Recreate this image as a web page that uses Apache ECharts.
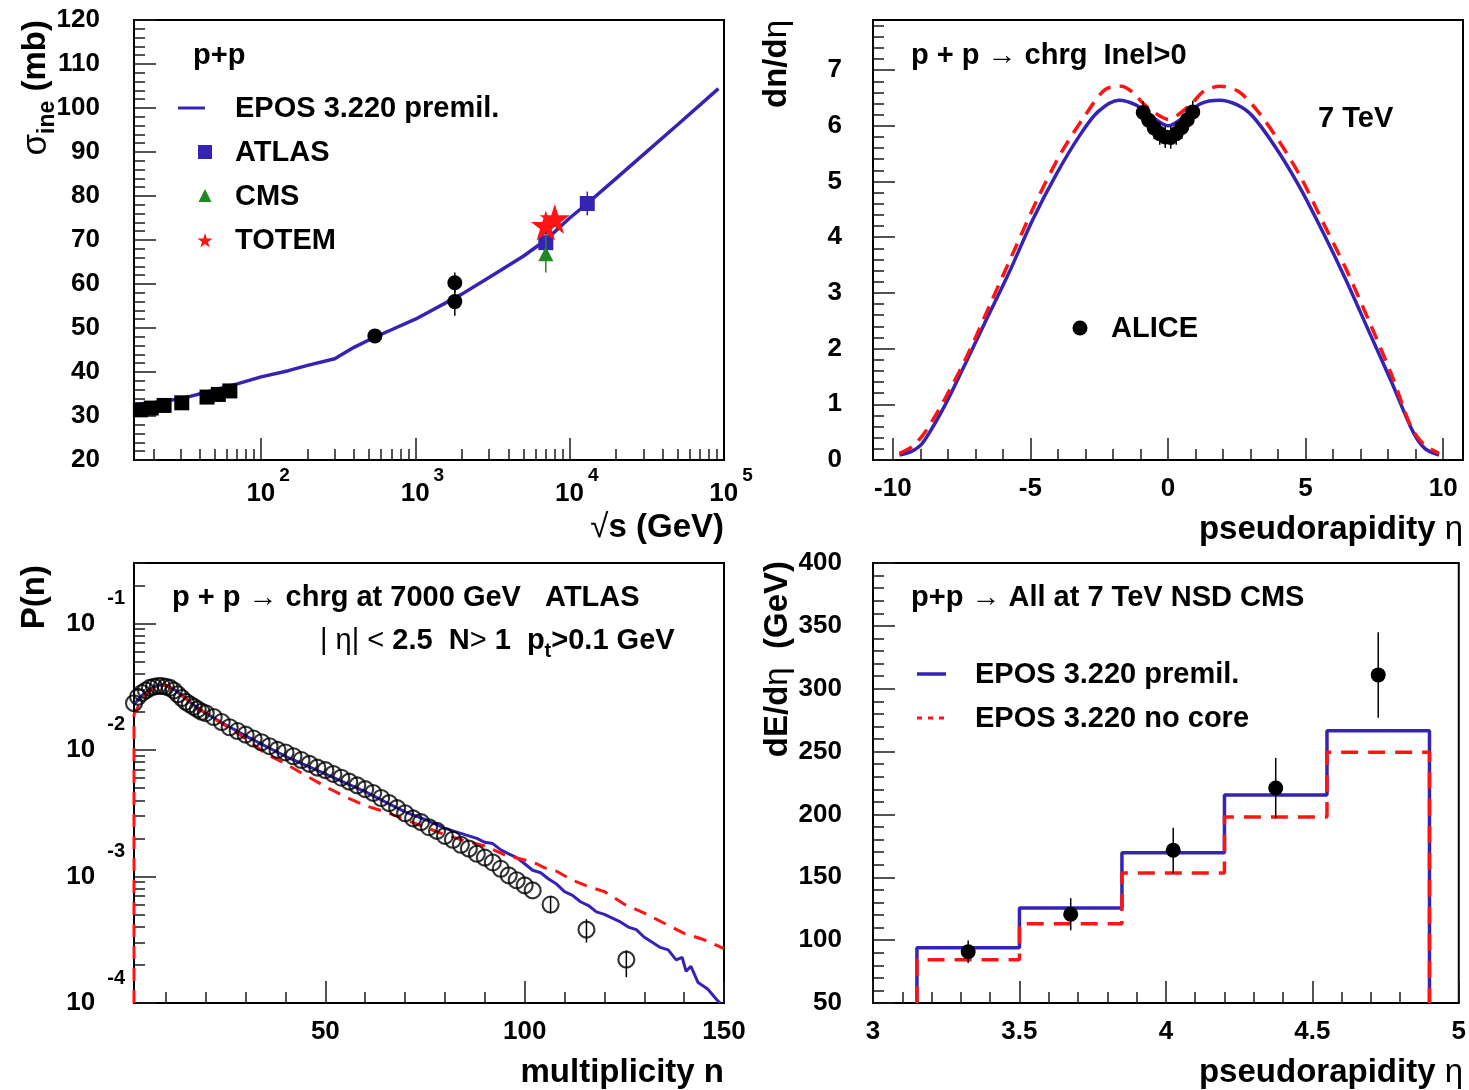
<!DOCTYPE html>
<html>
<head>
<meta charset="utf-8">
<title>EPOS 3.220 p+p comparisons</title>
<script src="https://cdn.jsdelivr.net/npm/echarts@6.0.0/dist/echarts.min.js"></script>
<style>
  html, body { margin: 0; padding: 0; background: #ffffff; }
  #chart { width: 1469px; height: 1090px; }
</style>
</head>
<body>
<div id="chart"></div>
<script>
// ---------- Panel 1: inelastic p+p cross section vs sqrt(s) ----------
const eposSqrtS  = [15, 20, 30, 50, 70, 100, 150, 200, 300, 400, 550, 700, 1000, 2000, 3000, 5000, 7000, 10000, 13000, 20000, 30000, 50000, 92000];
const eposSigma  = [32.6, 33.0, 33.9, 35.9, 37.3, 38.9, 40.3, 41.5, 43.0, 45.6, 48.0, 49.6, 52.0, 57.7, 61.5, 66.3, 70.0, 75.0, 78.3, 84.0, 89.4, 96.2, 104.4];
const lowSqrtS   = [16.5, 19.4, 23.5, 30.6, 44.6, 52.8, 62.7];
const lowSigma   = [31.4, 31.8, 32.4, 33.0, 34.3, 34.9, 35.7];
const collSqrtS  = [546, 1800, 1800];
const collSigma  = [48.2, 56.0, 60.3];
const collErr    = [1.0, 3.2, 2.3];
const atlasSqrtS = [7000, 13000];
const atlasSigma = [69.4, 78.3];
const atlasErr   = [2.4, 2.7];
const cmsSqrtS   = [7000];
const cmsSigma   = [66.9];
const cmsErr     = [4.3];
const totemSqrtS = [7000, 8000];
const totemSigma = [73.3, 74.8];

// ---------- Panel 2: dn/deta of charged particles, 7 TeV ----------
const eposEta = [-9.76, -9.3, -8.91, -8.15, -7.47, -6.62, -5.77, -4.92, -4.07, -3.23, -2.55, -1.78, -1.19, -0.68, 0, 0.68, 1.19, 1.87, 2.5, 3.06, 3.90, 4.75, 5.60, 6.45, 7.30, 8.15, 8.91, 9.35, 9.85];
const eposDn  = [0.09, 0.16, 0.31, 0.94, 1.62, 2.50, 3.37, 4.31, 5.12, 5.81, 6.25, 6.46, 6.38, 6.20, 6.00, 6.20, 6.40, 6.46, 6.38, 6.18, 5.62, 4.93, 4.12, 3.25, 2.31, 1.37, 0.50, 0.2, 0.09];
const noCoreEta = [-9.76, -9.3, -8.83, -8.15, -7.3, -6.45, -5.6, -4.75, -3.9, -3.06, -2.29, -1.70, -1.28, -0.9, -0.37, 0, 0.37, 0.9, 1.3, 1.9, 2.55, 3.2, 4.0, 4.8, 5.6, 6.45, 7.3, 8.15, 8.83, 9.3, 9.85];
const noCoreDn  = [0.12, 0.24, 0.50, 1.06, 1.87, 2.81, 3.75, 4.68, 5.50, 6.15, 6.65, 6.71, 6.60, 6.40, 6.20, 6.12, 6.20, 6.42, 6.62, 6.71, 6.62, 6.30, 5.75, 5.10, 4.30, 3.45, 2.50, 1.50, 0.60, 0.28, 0.12];
const aliceEta = [-0.9, -0.7, -0.5, -0.3, -0.1, 0.1, 0.3, 0.5, 0.7, 0.9];
const aliceDn  = [6.24, 6.10, 5.96, 5.86, 5.80, 5.79, 5.86, 5.97, 6.11, 6.25];
const aliceErr = [0.2, 0.2, 0.2, 0.2, 0.2, 0.2, 0.2, 0.2, 0.2, 0.2];

// ---------- Panel 3: multiplicity distribution, 7000 GeV ----------
const atlasN = [2, 3, 4, 5, 6, 7, 8, 9, 10, 11, 12, 13, 14, 15, 16, 17, 18, 19, 20,
  22, 24, 26, 28, 30, 32, 34, 36, 38, 40, 42, 44, 46, 48, 50, 52, 54, 56, 58, 60,
  62, 64, 66, 68, 70, 72, 74, 76, 78, 80, 82, 84, 86, 88, 90, 92, 94, 96, 98, 100, 102];
const atlasP = [2.34e-2, 2.63e-2, 2.82e-2, 2.95e-2, 3.09e-2, 3.16e-2, 3.20e-2, 3.20e-2, 3.16e-2, 3.09e-2,
  2.95e-2, 2.75e-2, 2.57e-2, 2.40e-2, 2.29e-2, 2.19e-2, 2.09e-2, 2.00e-2, 1.95e-2,
  1.82e-2, 1.66e-2, 1.51e-2, 1.41e-2, 1.32e-2, 1.23e-2, 1.15e-2, 1.07e-2, 1.00e-2, 9.55e-3,
  8.91e-3, 8.32e-3, 7.76e-3, 7.24e-3, 6.92e-3, 6.46e-3, 6.03e-3, 5.62e-3, 5.25e-3, 4.90e-3,
  4.57e-3, 4.17e-3, 3.80e-3, 3.47e-3, 3.16e-3, 2.88e-3, 2.69e-3, 2.45e-3, 2.29e-3, 2.09e-3,
  1.95e-3, 1.78e-3, 1.66e-3, 1.51e-3, 1.41e-3, 1.29e-3, 1.15e-3, 1.02e-3, 9.33e-4, 8.51e-4, 7.76e-4];
const atlasTailN  = [106.5, 115.5, 125.5];
const atlasTailP  = [6.0e-4, 3.8e-4, 2.2e-4];
const atlasTailLo = [5.1e-4, 3.0e-4, 1.6e-4];
const atlasTailHi = [7.0e-4, 4.6e-4, 2.6e-4];
const multEposN = [2, 4, 6, 8, 10, 12, 14, 16, 18, 20, 25, 30, 35, 40, 45, 50, 55, 60, 65, 70, 75, 80, 85, 88,
  90, 92, 94, 96, 98, 100, 102, 104, 106, 108, 110, 112, 114, 116, 118, 120, 122, 124, 126, 128,
  130, 132, 134, 136, 138, 139.5, 140.5, 141.7, 143.5, 145.9, 148.2, 149];
const multEposP = [2.29e-2, 2.69e-2, 3.02e-2, 3.24e-2, 3.24e-2, 3.02e-2, 2.69e-2, 2.40e-2, 2.14e-2, 1.95e-2,
  1.58e-2, 1.29e-2, 1.07e-2, 8.91e-3, 7.59e-3, 6.46e-3, 5.50e-3, 4.68e-3, 3.89e-3, 3.24e-3, 2.82e-3, 2.40e-3, 2.14e-3, 2.00e-3,
  1.86e-3, 1.82e-3, 1.62e-3, 1.51e-3, 1.41e-3, 1.26e-3, 1.12e-3, 1.07e-3, 9.55e-4, 8.71e-4, 7.59e-4, 7.08e-4, 6.31e-4, 5.89e-4,
  5.25e-4, 5.01e-4, 4.68e-4, 4.37e-4, 3.98e-4, 3.80e-4, 3.31e-4, 3.02e-4, 2.75e-4, 2.63e-4, 2.19e-4, 2.29e-4,
  1.78e-4, 1.95e-4, 1.45e-4, 1.29e-4, 1.06e-4, 1.0e-4];
const multNoCoreN = [2, 4, 6, 8, 10, 12, 14, 16, 18, 20, 25, 30, 35, 40, 45, 50, 55, 60, 65, 70, 75, 80, 85, 90,
  95, 100, 103, 105, 108, 112, 116, 120, 125, 130, 135, 140, 145, 150];
const multNoCoreP = [1.91e-2, 2.51e-2, 2.95e-2, 3.24e-2, 3.24e-2, 3.02e-2, 2.69e-2, 2.40e-2, 2.14e-2, 1.95e-2,
  1.55e-2, 1.23e-2, 9.33e-3, 7.76e-3, 6.31e-3, 5.13e-3, 4.27e-3, 3.63e-3, 3.24e-3, 2.82e-3, 2.45e-3, 2.14e-3, 1.91e-3, 1.74e-3,
  1.48e-3, 1.35e-3, 1.26e-3, 1.17e-3, 1.10e-3, 9.33e-4, 8.32e-4, 7.59e-4, 6.03e-4, 5.13e-4, 4.27e-4, 3.55e-4, 3.16e-4, 2.69e-4];

// ---------- Panel 4: dE/deta forward, 7 TeV NSD ----------
const binEdges   = [3.15, 3.5, 3.85, 4.2, 4.55, 4.9];
const eposDE     = [94, 125.5, 169.5, 215.5, 266.5];
const noCoreDE   = [84.5, 113, 153.5, 198, 249.5];
const cmsEta     = [3.325, 3.675, 4.025, 4.375, 4.725];
const cmsDE      = [90.8, 120.6, 171.5, 221, 311];
const cmsDEErr   = [9, 12.8, 18, 24, 34];

// ---------- styling ----------
const FONT = "'Liberation Sans', Arial, Helvetica, sans-serif";
const BLUE = '#3524b4';
const RED = '#ff1414';
const GREEN = '#1f8a1f';
// five-pointed star outline on a 100x100 box
const STAR_PTS = [[50, 0], [61.2, 34.5], [97.6, 34.5], [68.2, 55.9], [79.4, 90.5], [50, 69.1], [20.6, 90.5], [31.8, 55.9], [2.4, 34.5], [38.8, 34.5]];
const STAR = 'M' + STAR_PTS.map(p => p.join(',')).join(' L') + ' Z';
const TICK = { color: '#1a1a1a', width: 1.5 };

const zip = (xs, ys) => xs.map((x, i) => [x, ys[i]]);
const bars = (xs, ys, es) => xs.map((x, i) => [x, ys[i] - es[i], ys[i] + es[i]]);

function steps(a, b, st, skip) {
  const out = [];
  for (let k = 0; a + k * st <= b + 1e-9; k++) {
    const v = +(a + k * st).toFixed(6);
    if (!skip || !skip.some(s => Math.abs(s - v) < 1e-9)) out.push(v);
  }
  return out;
}
function logMinors(d0, d1, extra) {
  const out = [];
  for (let d = d0; d <= d1; d++) for (let m = 2; m <= 9; m++) out.push(+(m * Math.pow(10, d)).toPrecision(6));
  return out.concat(extra || []);
}

function mainAxis(dim, gi, type, min, max, majors, labels, labelOpt) {
  const ax = {
    type, gridIndex: gi, min, max,
    position: dim === 'x' ? 'bottom' : 'left',
    axisLine: { show: true, onZero: false, lineStyle: { color: '#000', width: 2 } },
    axisTick: { show: true, inside: true, length: 22, customValues: majors, lineStyle: TICK },
    axisLabel: Object.assign({
      show: true, customValues: labels, color: '#000', fontFamily: FONT, fontWeight: 'bold', fontSize: 26,
      lineHeight: 26, margin: dim === 'x' ? 16 : 31
    }, labelOpt || {}),
    splitLine: { show: false }, minorTick: { show: false }, minorSplitLine: { show: false }
  };
  if (type === 'log') ax.logBase = 10;
  return ax;
}
function minorAxis(dim, gi, type, min, max, minors) {
  const ax = {
    type, gridIndex: gi, min, max,
    position: dim === 'x' ? 'bottom' : 'left',
    axisLine: { show: false, onZero: false }, axisLabel: { show: false }, splitLine: { show: false },
    axisTick: { show: true, inside: true, length: 11, customValues: minors, lineStyle: TICK }
  };
  if (type === 'log') ax.logBase = 10;
  return ax;
}

const powLabel = v => Math.round(Math.log10(v));

// x axes: [main, minor] per panel
const xAxes = [
  mainAxis('x', 0, 'log', 15, 100000, [100, 1000, 10000], [100, 1000, 10000, 100000], {
    margin: 6,
    formatter: v => '{sp|}{b|10}{e|' + powLabel(v) + '}',
    rich: {
      sp: { width: 14, lineHeight: 56 },
      b: { fontFamily: FONT, fontWeight: 'bold', fontSize: 26, color: '#000', lineHeight: 56, verticalAlign: 'middle' },
      e: { fontFamily: FONT, fontWeight: 'bold', fontSize: 19, color: '#000', lineHeight: 14, verticalAlign: 'top', padding: [0, 0, 0, 4] }
    }
  }),
  minorAxis('x', 0, 'log', 15, 100000, logMinors(1, 4)),
  mainAxis('x', 1, 'value', -10.72, 10.72, [-10, -5, 0, 5, 10], [-10, -5, 0, 5, 10]),
  minorAxis('x', 1, 'value', -10.72, 10.72, steps(-10, 10, 1, [-10, -5, 0, 5, 10])),
  mainAxis('x', 2, 'value', 2, 150, [50, 100, 150], [50, 100, 150]),
  minorAxis('x', 2, 'value', 2, 150, steps(10, 140, 10, [50, 100])),
  mainAxis('x', 3, 'value', 3, 5, [3, 3.5, 4, 4.5, 5], [3, 3.5, 4, 4.5, 5]),
  minorAxis('x', 3, 'value', 3, 5, steps(3, 5, 0.1, [3, 3.5, 4, 4.5, 5]))
];
// y axes: [main, minor] per panel
const yAxes = [
  mainAxis('y', 0, 'value', 20, 120, steps(20, 120, 10), steps(20, 120, 10), { margin: 34 }),
  minorAxis('y', 0, 'value', 20, 120, steps(20, 120, 2, steps(20, 120, 10))),
  mainAxis('y', 1, 'value', 0, 7.9, steps(0, 7, 1), steps(0, 7, 1)),
  minorAxis('y', 1, 'value', 0, 7.9, steps(0, 7.8, 0.2, steps(0, 7, 1))),
  mainAxis('y', 2, 'log', 1e-4, 0.3, [1e-4, 1e-3, 1e-2, 1e-1], [1e-4, 1e-3, 1e-2, 1e-1], {
    margin: 9,
    formatter: v => '{b|10}{e|' + powLabel(v) + '}',
    rich: {
      b: { fontFamily: FONT, fontWeight: 'bold', fontSize: 26, color: '#000', lineHeight: 70, verticalAlign: 'middle' },
      e: { fontFamily: FONT, fontWeight: 'bold', fontSize: 20, color: '#000', lineHeight: 24, verticalAlign: 'top', padding: [0, 0, 0, 12] }
    }
  }),
  minorAxis('y', 2, 'log', 1e-4, 0.3, logMinors(-4, -2, [0.2, 0.3])),
  mainAxis('y', 3, 'value', 50, 400, steps(50, 400, 50), steps(50, 400, 50)),
  minorAxis('y', 3, 'value', 50, 400, steps(50, 400, 10, steps(50, 400, 50)))
];

// each panel draws its data on its main axes
const AX = [0, 2, 4, 6];

function errorBars(p, data, color, width) {
  return {
    type: 'custom', xAxisIndex: AX[p], yAxisIndex: AX[p], z: 6, silent: true, clip: true,
    encode: { x: 0, y: [1, 2] },
    data,
    renderItem: (params, api) => {
      const a = api.coord([api.value(0), api.value(1)]);
      const b = api.coord([api.value(0), api.value(2)]);
      return { type: 'line', shape: { x1: a[0], y1: a[1], x2: b[0], y2: b[1] }, style: { stroke: color, lineWidth: width } };
    }
  };
}
function curve(p, data, color, width, dash, smooth) {
  return {
    type: 'line', xAxisIndex: AX[p], yAxisIndex: AX[p], data, symbol: 'none', showSymbol: false, z: 3,
    smooth: smooth || false,
    lineStyle: { color, width, type: dash || 'solid' }, silent: true, clip: true
  };
}
function points(p, data, symbol, size, color, extra) {
  return Object.assign({
    type: 'scatter', xAxisIndex: AX[p], yAxisIndex: AX[p], data, symbol, symbolSize: size, z: 5, silent: true,
    itemStyle: { color, opacity: 1 }
  }, extra || {});
}
function histogram(edges, vals, base) {
  const pts = [[edges[0], base]];
  vals.forEach((v, i) => { pts.push([edges[i], v]); pts.push([edges[i + 1], v]); });
  pts.push([edges[edges.length - 1], base]);
  return pts;
}

const series = [
  // panel 1
  curve(0, zip(eposSqrtS, eposSigma), BLUE, 3.5),
  errorBars(0, bars(collSqrtS, collSigma, collErr), '#000', 1.5),
  errorBars(0, bars(atlasSqrtS, atlasSigma, atlasErr), BLUE, 1.5),
  errorBars(0, bars(cmsSqrtS, cmsSigma, cmsErr), GREEN, 1.5),
  points(0, zip(lowSqrtS, lowSigma), 'rect', 15, '#000'),
  points(0, zip(collSqrtS, collSigma), 'circle', 15, '#000'),
  points(0, zip(atlasSqrtS, atlasSigma), 'rect', 15, BLUE),
  points(0, zip(cmsSqrtS, cmsSigma), 'triangle', 15, GREEN),
  points(0, zip(totemSqrtS, totemSigma), 'path://' + STAR, 30, RED),
  // panel 2
  curve(1, zip(eposEta, eposDn), BLUE, 3.5, null, 0.3),
  curve(1, zip(noCoreEta, noCoreDn), RED, 3.5, [14, 9], 0.3),
  errorBars(1, bars(aliceEta, aliceDn, aliceErr), '#000', 1.5),
  points(1, zip(aliceEta, aliceDn), 'circle', 15, '#000'),
  // panel 3
  curve(2, zip(multEposN, multEposP), BLUE, 3),
  curve(2, [[multNoCoreN[0], 1e-4]].concat(zip(multNoCoreN, multNoCoreP)), RED, 3, [13, 9]),
  errorBars(2, atlasTailN.map((n, i) => [n, atlasTailLo[i], atlasTailHi[i]]), '#000', 1.5),
  points(2, zip(atlasN, atlasP).concat(zip(atlasTailN, atlasTailP)), 'circle', 16, 'rgba(0,0,0,0)', {
    itemStyle: { color: 'rgba(0,0,0,0)', borderColor: '#000', borderWidth: 2.1 }
  }),
  // panel 4
  curve(3, histogram(binEdges, eposDE, 50), BLUE, 3.5),
  curve(3, histogram(binEdges, noCoreDE, 50), RED, 3.5, [17, 10]),
  errorBars(3, bars(cmsEta, cmsDE, cmsDEErr), '#000', 1.5),
  points(3, zip(cmsEta, cmsDE), 'circle', 15, '#000')
];

// ---------- text and legends ----------
const tok = (size, weight, lh, va) => ({ fontFamily: FONT, fontWeight: weight, fontSize: size, fill: '#000', color: '#000', lineHeight: lh, verticalAlign: va });
const R_TXT = { b: tok(29, 'bold', 35, 'top'), n: tok(29, 'normal', 35, 'top'), s: tok(20, 'bold', 20, 'bottom') };
const R_AX = { b: tok(33, 'bold', 40, 'top'), n: tok(33, 'normal', 40, 'top'), g: tok(35, 'normal', 40, 'top'), s: tok(23, 'bold', 23, 'bottom') };

function text(x, y, str, rich, align, rotation) {
  return {
    type: 'text', x, y, rotation: rotation || 0, silent: true, z: 100,
    style: { text: str, rich, fill: '#000', fontFamily: FONT, fontWeight: 'bold', fontSize: 29, align: align || 'left', verticalAlign: 'middle' }
  };
}
const UP = Math.PI / 2;
const starGlyph = (cx, cy, size) => STAR_PTS.map(p => [cx + (p[0] - 50) * size / 100, cy + (p[1] - 50) * size / 100]);

const graphics = [
  // panel 1
  text(193, 59, '{b|p+p}', R_TXT),
  { type: 'line', silent: true, z: 100, shape: { x1: 178, y1: 108, x2: 205, y2: 108 }, style: { stroke: BLUE, lineWidth: 3 } },
  text(235, 112, '{b|EPOS 3.220 premil.}', R_TXT),
  { type: 'rect', silent: true, z: 100, shape: { x: 198, y: 145, width: 14, height: 14 }, style: { fill: BLUE } },
  text(235, 156, '{b|ATLAS}', R_TXT),
  { type: 'polygon', silent: true, z: 100, shape: { points: [[205, 189], [198.5, 202], [211.5, 202]] }, style: { fill: GREEN } },
  text(235, 200, '{b|CMS}', R_TXT),
  { type: 'polygon', silent: true, z: 100, shape: { points: starGlyph(205, 241, 16) }, style: { fill: RED } },
  text(235, 244, '{b|TOTEM}', R_TXT),
  text(724, 531, '{n|√}{b|s (GeV)}', R_AX, 'right'),
  text(39, 20, '{g|σ}{s|ine}{b| (mb)}', R_AX, 'right', UP),
  // panel 2
  text(911, 59, '{b|p + p }{n|→}{b| chrg  Inel>0}', R_TXT),
  text(1318, 122, '{b|7 TeV}', R_TXT),
  { type: 'circle', silent: true, z: 100, shape: { cx: 1080, cy: 328, r: 7.5 }, style: { fill: '#000' } },
  text(1111, 332, '{b|ALICE}', R_TXT),
  text(1463, 533, '{b|pseudorapidity }{n|η}', R_AX, 'right'),
  text(780, 20, '{b|dn/d}{n|η}', R_AX, 'right', UP),
  // panel 3
  text(172, 601, '{b|p + p }{n|→}{b| chrg at 7000 GeV   ATLAS}', R_TXT),
  text(320, 644, '{n|| η| < }{b|2.5  N}{n|>}{b| 1  p}{s|t}{b|>0.1 GeV}', R_TXT),
  text(724, 1076, '{b|multiplicity n}', R_AX, 'right'),
  text(38, 565, '{b|P(n)}', R_AX, 'right', UP),
  // panel 4
  text(911, 601, '{b|p+p }{n|→}{b| All at 7 TeV NSD CMS}', R_TXT),
  { type: 'line', silent: true, z: 100, shape: { x1: 917, y1: 674, x2: 946, y2: 674 }, style: { stroke: BLUE, lineWidth: 3.5 } },
  text(975, 678, '{b|EPOS 3.220 premil.}', R_TXT),
  { type: 'line', silent: true, z: 100, shape: { x1: 917, y1: 718, x2: 946, y2: 718 }, style: { stroke: RED, lineWidth: 3, lineDash: [5, 6] } },
  text(975, 722, '{b|EPOS 3.220 no core}', R_TXT),
  text(1463, 1076, '{b|pseudorapidity }{n|η}', R_AX, 'right'),
  text(781, 561, '{b|dE/d}{n|η}{b|  (GeV)}', R_AX, 'right', UP)
];

const gridBox = (left, top) => ({ left, top, width: 590, height: 440, show: true, borderColor: '#000', borderWidth: 2, backgroundColor: 'rgba(0,0,0,0)' });

const chart = echarts.init(document.getElementById('chart'), null, { renderer: 'canvas' });
chart.setOption({
  animation: false,
  backgroundColor: '#ffffff',
  grid: [gridBox(134, 20), gridBox(873, 20), gridBox(134, 563), gridBox(873, 563)],
  xAxis: xAxes,
  yAxis: yAxes,
  series,
  graphic: { elements: graphics }
});
</script>
</body>
</html>
